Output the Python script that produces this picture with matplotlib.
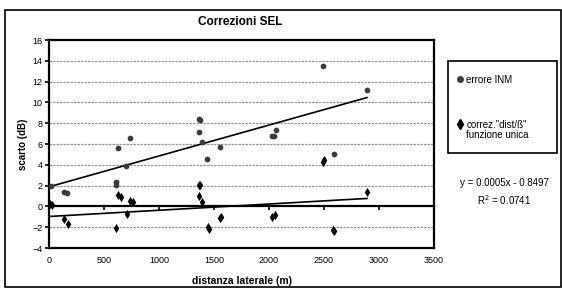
import numpy as np
import matplotlib
matplotlib.use("Agg")
from matplotlib import pyplot as plt
from matplotlib.patches import Rectangle
from matplotlib.lines import Line2D

plt.rcParams['font.family'] = ['Liberation Sans', 'DejaVu Sans']

# errore INM (grey circles)
inm_x = [20, 140, 165, 605, 610, 630, 700, 740, 1360, 1370, 1360, 1390,
         1440, 1555, 2030, 2045, 2060, 2490, 2590, 2890]
inm_y = [1.95, 1.4, 1.25, 2.3, 2.1, 5.6, 3.9, 6.6, 8.4, 8.35, 7.2, 6.2,
         4.6, 5.7, 6.75, 6.8, 7.35, 13.5, 5.05, 11.2]

# correz. "dist/ß" funzione unica (black diamonds)
corr_x = [10, 30, 140, 170, 610, 630, 650, 710, 740, 760, 1360, 1375, 1360,
          1390, 1450, 1445, 1550, 1565, 2030, 2050, 2490, 2500, 2590, 2585, 2890]
corr_y = [0.2, 0.1, -1.25, -1.7, -2.1, 1.1, 0.95, -0.75, 0.5, 0.4, 2.1, 2.1,
          1.0, 0.4, -2.2, -2.0, -1.1, -1.0, -1.0, -0.8, 4.3, 4.45, -2.4, -2.25, 1.4]

# trend lines (slope, intercept) as drawn
inm_fit = (0.00297, 1.88)
corr_fit = (0.0006, -0.97)

eq_text = "y = 0.0005x - 0.8497"
r2_text = "R$^2$ = 0.0741"

xticks = [0, 500, 1000, 1500, 2000, 2500, 3000, 3500]
yticks = [-4, -2, 0, 2, 4, 6, 8, 10, 12, 14, 16]

W, H = 562, 288
fig = plt.figure(figsize=(W / 100, H / 100), dpi=100)
ax = fig.add_axes([49 / W, 1 - 248 / H, (434 - 49) / W, (248 - 40) / H])

# outer chart border
fig.patches.append(Rectangle((5 / W, 1 / H), (W - 6) / W, 277 / H,
                             transform=fig.transFigure, fill=False,
                             edgecolor='black', linewidth=1.2))

for y in yticks[1:-1]:
    if y != 0:
        ax.axhline(y, color='#999999', lw=0.9, ls=(0, (2, 0.8)), zorder=1)

ax.scatter(inm_x, inm_y, s=17, marker='o', color='#3c3c3c', zorder=3,
           linewidths=0)
ax.scatter(corr_x, corr_y, s=22, marker='d', color='black', zorder=3,
           linewidths=0)

xl = np.array([0, max(inm_x)])
ax.plot(xl, inm_fit[0] * xl + inm_fit[1], color='black', lw=1.2, zorder=2)
xl = np.array([0, max(corr_x)])
ax.plot(xl, corr_fit[0] * xl + corr_fit[1], color='black', lw=1.2, zorder=2)

ax.set_xlim(0, 3500)
ax.set_ylim(-4, 16)
ax.set_xticks(xticks)
ax.set_yticks(yticks)

for s in ['left', 'right', 'top']:
    ax.spines[s].set_linewidth(1.6)
ax.spines['bottom'].set_position(('data', 0))
ax.spines['bottom'].set_linewidth(1.6)
ax.tick_params(axis='x', direction='out', length=3, width=1.2,
               labelbottom=False)
ax.tick_params(axis='y', direction='out', length=3, width=1.2,
               labelsize=6.5, pad=1.5)

sec = ax.secondary_xaxis(0)
sec.set_xticks(xticks)
sec.tick_params(length=0, labelsize=6.5, pad=6)
sec.spines['bottom'].set_linewidth(1.6)
sec.set_xlabel('distanza laterale (m)', fontsize=7.5, fontweight='bold',
               labelpad=8)

ax.set_ylabel('scarto (dB)', fontsize=7, fontweight='bold', labelpad=3)
fig.text(240 / W, 1 - 22 / H, 'Correzioni SEL', ha='center', va='center',
         fontsize=8.5, fontweight='bold')

# legend
fig.patches.append(Rectangle((448 / W, 1 - 153 / H), (557 - 448) / W,
                             (153 - 61) / H, transform=fig.transFigure,
                             fill=False, edgecolor='black', linewidth=1.2))
handles = [
    Line2D([], [], marker='o', ls='none', color='#3c3c3c', markersize=4),
    Line2D([], [], marker='d', ls='none', color='black', markersize=4.7),
]
leg = fig.legend(handles, ['errore INM', 'correz."dist/ß"'],
                 loc='upper left', bbox_to_anchor=(444 / W, 1 - 61 / H),
                 fontsize=7, frameon=False,
                 handlelength=0.5, handletextpad=0.4, labelspacing=3.6,
                 borderpad=1.4, borderaxespad=0)
fig.text(466.5 / W, 1 - 135 / H, 'funzione unica', ha='left', va='center',
         fontsize=7)

fig.text(504 / W, 1 - 183 / H, eq_text, ha='center', va='center', fontsize=7)
fig.text(504 / W, 1 - 200 / H, r2_text, ha='center', va='center', fontsize=7)

fig.savefig('out.png', dpi=100)
